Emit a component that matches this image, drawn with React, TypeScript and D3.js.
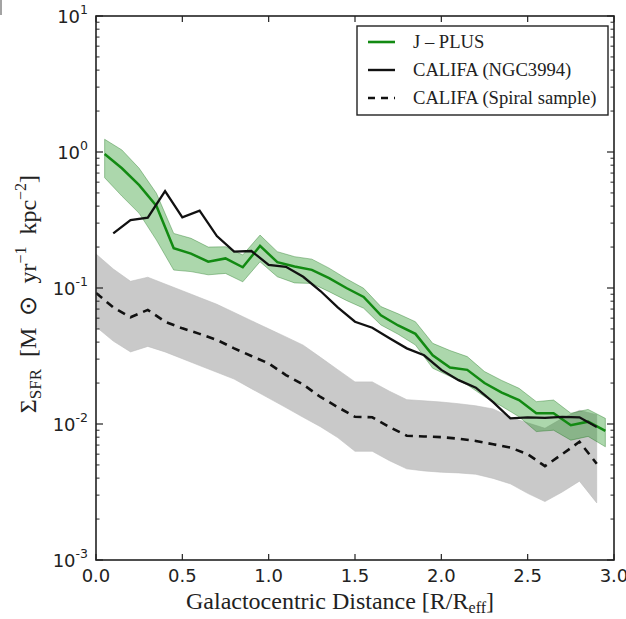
import React from "react";
import * as d3 from "d3";

// ---------- data ----------
const jplusR = [0.05, 0.15, 0.25, 0.35, 0.45, 0.55, 0.65, 0.75, 0.85, 0.95, 1.05, 1.15, 1.25, 1.35, 1.45, 1.55, 1.65, 1.75, 1.85, 1.95, 2.05, 2.15, 2.25, 2.35, 2.45, 2.55, 2.65, 2.75, 2.85, 2.95];
const jplusSFR = [0.966, 0.759, 0.571, 0.401, 0.196, 0.179, 0.156, 0.165, 0.142, 0.204, 0.155, 0.144, 0.136, 0.118, 0.1, 0.086, 0.063, 0.053, 0.046, 0.032, 0.026, 0.025, 0.02, 0.017, 0.015, 0.012, 0.012, 0.0098, 0.0104, 0.0089];
const jplusHigh = [1.24, 1.035, 0.759, 0.497, 0.252, 0.232, 0.2, 0.201, 0.175, 0.245, 0.185, 0.17, 0.163, 0.14, 0.117, 0.0995, 0.073, 0.0646, 0.0565, 0.0392, 0.0347, 0.0313, 0.0243, 0.0209, 0.0183, 0.0146, 0.015, 0.012, 0.0128, 0.011];
const jplusLow = [0.647, 0.474, 0.354, 0.225, 0.1355, 0.132, 0.125, 0.128, 0.111, 0.156, 0.121, 0.109, 0.108, 0.094, 0.081, 0.071, 0.0535, 0.0457, 0.0381, 0.0257, 0.0224, 0.0194, 0.0159, 0.0135, 0.0113, 0.0088, 0.009, 0.0076, 0.0081, 0.0068];

const ngcR = [0.1, 0.2, 0.3, 0.4, 0.5, 0.6, 0.7, 0.8, 0.9, 1.0, 1.1, 1.2, 1.3, 1.4, 1.5, 1.6, 1.7, 1.8, 1.9, 2.0, 2.1, 2.2, 2.3, 2.4, 2.5, 2.6, 2.7, 2.8, 2.9];
const ngcSFR = [0.252, 0.316, 0.329, 0.516, 0.331, 0.37, 0.241, 0.185, 0.187, 0.148, 0.143, 0.121, 0.095, 0.072, 0.0565, 0.051, 0.0427, 0.036, 0.032, 0.025, 0.021, 0.0185, 0.0145, 0.011, 0.0112, 0.0111, 0.0113, 0.0112, 0.0095];

const spiralR = [0.0, 0.1, 0.2, 0.3, 0.4, 0.5, 0.6, 0.7, 0.8, 0.9, 1.0, 1.1, 1.2, 1.3, 1.4, 1.5, 1.6, 1.7, 1.8, 1.9, 2.0, 2.1, 2.2, 2.3, 2.4, 2.5, 2.6, 2.7, 2.8, 2.9];
const spiralSFR = [0.092, 0.072, 0.061, 0.069, 0.0565, 0.0505, 0.046, 0.0415, 0.036, 0.0316, 0.0279, 0.0229, 0.0195, 0.0158, 0.0133, 0.0113, 0.0112, 0.0095, 0.0082, 0.0081, 0.008, 0.0078, 0.0075, 0.0071, 0.0067, 0.006, 0.0049, 0.006, 0.0074, 0.0051];
const spiralHigh = [0.178, 0.138, 0.112, 0.12, 0.107, 0.0955, 0.0851, 0.0759, 0.0661, 0.0575, 0.0501, 0.0437, 0.038, 0.0309, 0.0251, 0.0204, 0.0204, 0.0174, 0.0151, 0.0148, 0.0145, 0.0141, 0.0136, 0.0129, 0.0112, 0.0102, 0.0093, 0.011, 0.0126, 0.0117];
const spiralLow = [0.0519, 0.0407, 0.0339, 0.0372, 0.0339, 0.0302, 0.0269, 0.024, 0.0214, 0.0182, 0.0155, 0.0132, 0.0112, 0.00955, 0.00794, 0.0063, 0.0063, 0.00537, 0.00468, 0.00452, 0.00442, 0.00437, 0.00427, 0.00398, 0.00363, 0.00309, 0.00269, 0.00316, 0.0038, 0.00263];

const xTicks = [0, 0.5, 1.0, 1.5, 2.0, 2.5, 3.0];
const xTickLabels = ["0.0", "0.5", "1.0", "1.5", "2.0", "2.5", "3.0"];
const yDecades = [-3, -2, -1, 0, 1];
const yTickExponents = ["-3", "-2", "-1", "0", "1"];
const legendLabels = ["J \u2013 PLUS", "CALIFA (NGC3994)", "CALIFA (Spiral sample)"];

// ---------- layout ----------
const W = 626;
const H = 619;
const X0 = 96, X1 = 614, Y0 = 560, Y1 = 16;
const GREEN = "#128a12";
const SERIF = "'Liberation Serif', 'Times New Roman', serif";
const SANS = "'DejaVu Sans', sans-serif";

export default function App() {
  const x = d3.scaleLinear().domain([0, 3]).range([X0, X1]);
  const y = d3.scaleLog().domain([1e-3, 1e1]).range([Y0, Y1]);

  const line = d3.line<[number, number]>().x((d) => x(d[0])).y((d) => y(d[1]));
  const area = d3
    .area<[number, number, number]>()
    .x((d) => x(d[0]))
    .y0((d) => y(d[1]))
    .y1((d) => y(d[2]));

  const jplusPts = jplusR.map((r, i) => [r, jplusSFR[i]] as [number, number]);
  const jplusBand = jplusR.map((r, i) => [r, jplusLow[i], jplusHigh[i]] as [number, number, number]);
  const ngcPts = ngcR.map((r, i) => [r, ngcSFR[i]] as [number, number]);
  const spiralPts = spiralR.map((r, i) => [r, spiralSFR[i]] as [number, number]);
  const spiralBand = spiralR.map((r, i) => [r, spiralLow[i], spiralHigh[i]] as [number, number, number]);

  const minorTicks: number[] = [];
  yDecades.slice(0, -1).forEach((e) => {
    for (let k = 2; k <= 9; k++) minorTicks.push(k * Math.pow(10, e));
  });

  const legendX = 357, legendY = 26, legendW = 251, legendH = 89;
  const legendRows = [42, 70, 98];

  return (
    <svg width={W} height={H} style={{ position: "absolute", left: 0, top: 0, background: "#fff" }}>
      <rect x={0} y={0} width={W} height={H} fill="#fff" />
      <line x1={1} y1={0} x2={1} y2={15} stroke="#666" strokeWidth={1.2} />
      <defs>
        <clipPath id="plotclip">
          <rect x={X0} y={Y1} width={X1 - X0} height={Y0 - Y1} />
        </clipPath>
      </defs>
      <g clipPath="url(#plotclip)">
        <path d={area(spiralBand) || ""} fill="#c9c9c9" stroke="#bdbdbd" strokeWidth={0.6} />
        <path d={line(spiralPts) || ""} fill="none" stroke="#111" strokeWidth={2.6} strokeDasharray="8,6" />
        <path d={area(jplusBand) || ""} fill="rgba(16,140,16,0.35)" stroke="rgba(16,110,16,0.4)" strokeWidth={0.9} />
        <path d={line(jplusPts) || ""} fill="none" stroke={GREEN} strokeWidth={2.5} />
        <path d={line(ngcPts) || ""} fill="none" stroke="#111" strokeWidth={2.3} />
      </g>

      {/* frame */}
      <rect x={X0} y={Y1} width={X1 - X0} height={Y0 - Y1} fill="none" stroke="#222" strokeWidth={1.6} />

      {/* x ticks */}
      {xTicks.map((t, i) => (
        <g key={"xt" + i}>
          <line x1={x(t)} x2={x(t)} y1={Y0} y2={Y0 - 6} stroke="#222" strokeWidth={1.2} />
          <line x1={x(t)} x2={x(t)} y1={Y1} y2={Y1 + 6} stroke="#222" strokeWidth={1.2} />
          <text x={x(t)} y={582} textAnchor="middle" fontFamily={SANS} fontSize={18} fill="#222">
            {xTickLabels[i]}
          </text>
        </g>
      ))}

      {/* y major ticks */}
      {yDecades.map((e, i) => {
        const v = Math.pow(10, e);
        return (
          <g key={"yt" + i}>
            <line x1={X0} x2={X0 + 7} y1={y(v)} y2={y(v)} stroke="#222" strokeWidth={1.2} />
            <line x1={X1} x2={X1 - 7} y1={y(v)} y2={y(v)} stroke="#222" strokeWidth={1.2} />
            <text x={88} y={y(v) + 7} textAnchor="end" fontFamily={SANS} fontSize={18} fill="#222">
              10
              <tspan dy={-9} fontSize={12.5}>
                {yTickExponents[i]}
              </tspan>
            </text>
          </g>
        );
      })}
      {minorTicks.map((v, i) => (
        <g key={"ym" + i}>
          <line x1={X0} x2={X0 + 3.5} y1={y(v)} y2={y(v)} stroke="#222" strokeWidth={1} />
          <line x1={X1} x2={X1 - 3.5} y1={y(v)} y2={y(v)} stroke="#222" strokeWidth={1} />
        </g>
      ))}

      {/* axis labels */}
      <text x={340} y={609} textAnchor="middle" fontFamily={SERIF} fontSize={24} fill="#222">
        Galactocentric Distance [R/R
        <tspan fontSize={16} dy={4}>eff</tspan>
        <tspan dy={-4}>]</tspan>
      </text>
      <text
        transform="translate(36,294) rotate(-90)"
        textAnchor="middle"
        fontFamily={SERIF}
        fontSize={24}
        fill="#222"
      >
        {"\u03A3"}
        <tspan fontSize={17} dy={5}>SFR</tspan>
        <tspan dy={-5}>{"\u2002[M\u2002\u2299\u2002yr"}</tspan>
        <tspan fontSize={16} dy={-10}>{"\u22121"}</tspan>
        <tspan dy={10}>{"\u2002kpc"}</tspan>
        <tspan fontSize={16} dy={-10}>{"\u22122"}</tspan>
        <tspan dy={10}>]</tspan>
      </text>

      {/* legend */}
      <rect x={legendX} y={legendY} width={legendW} height={legendH} fill="#fff" stroke="#222" strokeWidth={1.4} />
      <line x1={368} x2={395} y1={legendRows[0]} y2={legendRows[0]} stroke={GREEN} strokeWidth={2.6} />
      <line x1={368} x2={395} y1={legendRows[1]} y2={legendRows[1]} stroke="#111" strokeWidth={2.4} />
      <line x1={368} x2={395} y1={legendRows[2]} y2={legendRows[2]} stroke="#111" strokeWidth={2.6} strokeDasharray="7,6" />
      {legendLabels.map((lab, i) => (
        <text key={"lg" + i} x={413} y={legendRows[i] + 6} fontFamily={SERIF} fontSize={18.6} fill="#222">
          {lab}
        </text>
      ))}
    </svg>
  );
}
